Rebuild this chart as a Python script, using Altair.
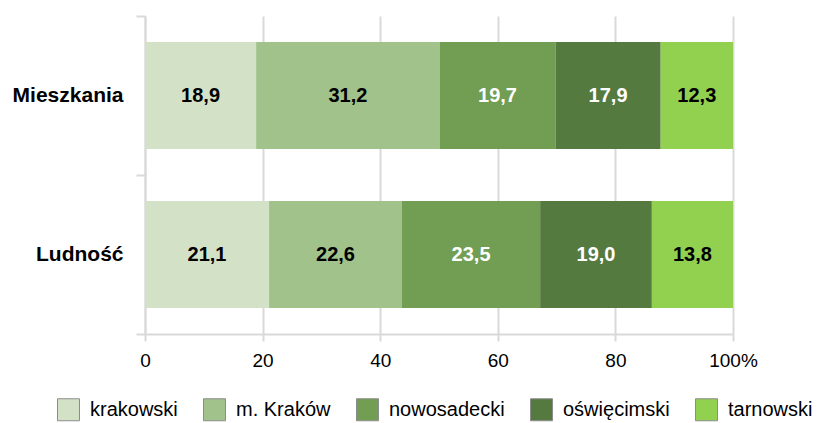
import altair as alt
import pandas as pd

categories = ["Mieszkania", "Ludność"]
series = ["krakowski", "m. Kraków", "nowosadecki", "oświęcimski", "tarnowski"]
mieszkania = [18.9, 31.2, 19.7, 17.9, 12.3]
ludnosc = [21.1, 22.6, 23.5, 19.0, 13.8]
colors = ["#d3e2c7", "#a1c28b", "#719e52", "#557a3f", "#92d050"]
x_ticks = [0, 20, 40, 60, 80, 100]

rows = []
for cat, vals in zip(categories, [mieszkania, ludnosc]):
    for i, (s, v) in enumerate(zip(series, vals)):
        rows.append({"cat": cat, "series": s, "order": i, "value": v})
df = pd.DataFrame(rows)

grey = "#d9d9d9"

y_enc = alt.Y(
    "cat:N",
    sort=categories,
    scale=alt.Scale(paddingInner=0, paddingOuter=0),
    axis=alt.Axis(
        title=None, grid=False, tickBand="extent",
        domainColor=grey, domainWidth=2, tickColor=grey, tickWidth=2, tickSize=9,
        labelFontSize=21, labelFontWeight="bold", labelColor="black", labelPadding=13,
    ),
)
x_scale = alt.Scale(domain=[0, 100], nice=False)
x_axis = alt.Axis(
    title=None, values=x_ticks, grid=True, gridColor=grey, gridWidth=2,
    domainColor=grey, domainWidth=2, tickColor=grey, tickWidth=2, tickSize=7,
    labelFontSize=19, labelColor="black", labelPadding=10, labelFlush=False,
    labelExpr="datum.value == 100 ? '100%' : datum.label",
)

bars = alt.Chart(df).mark_bar(height={"band": 0.673}).encode(
    y=y_enc,
    x=alt.X("value:Q", stack="zero", scale=x_scale, axis=x_axis),
    color=alt.Color(
        "series:N", sort=series,
        scale=alt.Scale(domain=series, range=colors),
        legend=alt.Legend(
            title=None, orient="none", legendX=-88, legendY=382,
            direction="horizontal", columns=5,
            symbolType="square", symbolSize=484, symbolStrokeColor="#8c8c8c",
            symbolStrokeWidth=1, symbolOpacity=1,
            labelFontSize=20, labelColor="black", labelOffset=10, columnPadding=23,
        ),
    ),
    order=alt.Order("order:Q"),
)

labels = alt.Chart(df).transform_stack(
    stack="value", groupby=["cat"], as_=["v0", "v1"],
    sort=[alt.SortField("order", order="ascending")],
).transform_calculate(
    mid="(datum.v0 + datum.v1) / 2",
    lbl="replace(format(datum.value, '.1f'), '.', ',')",
).mark_text(fontSize=20, fontWeight="bold").encode(
    y=alt.Y("cat:N", sort=categories),
    x=alt.X("mid:Q", scale=x_scale),
    text="lbl:N",
    color=alt.condition(
        alt.FieldOneOfPredicate(field="series", oneOf=["nowosadecki", "oświęcimski"]),
        alt.value("white"), alt.value("black"),
    ),
)

chart = alt.layer(bars, labels).properties(
    width=588, height=318,
    autosize=alt.AutoSizeParams(type="none"),
    padding={"left": 137, "top": 8, "right": 86, "bottom": 97},
).configure(font="Liberation Sans").configure_view(stroke=None)

chart.save("out.html", embed_options={"renderer": "svg", "actions": False})
